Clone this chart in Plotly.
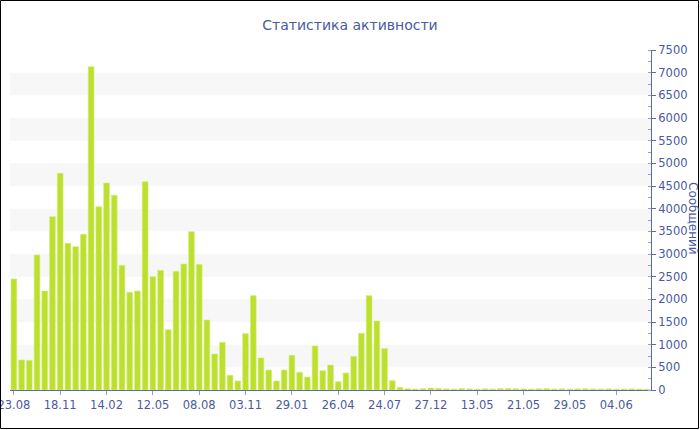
import plotly.graph_objects as go

# Data
values = [2450, 662, 654, 2978, 2184, 3824, 4779, 3235, 3162, 3434,
          7132, 4044, 4566, 4294, 2750, 2154, 2184, 4596, 2500, 2640,
          1331, 2618, 2779, 3493, 2772, 1544, 794, 1051, 324, 199,
          1243, 2081, 706, 441, 199, 441, 765, 390, 287, 971,
          426, 551, 184, 375, 743, 1250, 2081, 1522, 912, 206,
          59, 29, 22, 29, 44, 37, 25, 20, 30, 24,
          18, 26, 22, 30, 35, 28, 24, 20, 27, 31,
          22, 25, 19, 26, 28, 23, 20, 24, 18, 22,
          25, 20, 16]
positions = list(range(len(values)))
tick_positions = [0, 6, 12, 18, 24, 30, 36, 42, 48, 54, 60, 66, 72, 78]
tick_labels = ["23.08", "18.11", "14.02", "12.05", "08.08", "03.11", "29.01",
               "26.04", "24.07", "27.12", "13.05", "21.05", "29.05", "04.06"]
y_max = 7500
y_step = 500

TEXT = "#4a5a9f"
AXIS = "#5b6cae"
W, H = 700, 430
ML, MR, MT, MB = 10, 49, 50, 40
PW, PH = W - ML - MR, H - MT - MB

fig = go.Figure()
fig.add_trace(go.Bar(
    x=positions, y=values,
    marker=dict(color="#bde02e", line=dict(width=0.6, color="#d3ec76")),
    hoverinfo="y",
))

shapes = []
for lo in range(y_step, y_max, 2 * y_step):
    shapes.append(dict(type="rect", xref="paper", yref="y", x0=0, x1=1,
                       y0=lo, y1=lo + y_step, fillcolor="#f7f7f7",
                       line=dict(width=0), layer="below"))
# outer border
shapes.append(dict(type="rect", xref="paper", yref="paper",
                   x0=(0.5 - ML) / PW, x1=(W - 1.5 - ML) / PW,
                   y0=(PH + MT - (H - 1.5)) / PH, y1=(PH + MT - 0.5) / PH,
                   line=dict(color="black", width=1), fillcolor="rgba(0,0,0,0)"))

fig.update_layout(
    width=W, height=H,
    margin=dict(l=ML, r=MR, t=MT, b=MB, pad=0),
    paper_bgcolor="white", plot_bgcolor="white",
    bargap=0.26,
    showlegend=False,
    shapes=shapes,
    font=dict(family="DejaVu Sans", size=11.5, color=TEXT),
    title=dict(text="Статистика активности", x=0.5, xanchor="center",
               y=1 - 25 / H, yanchor="middle",
               font=dict(family="DejaVu Sans", size=14, color=TEXT)),
    xaxis=dict(range=[-0.5, len(values) - 0.5], tickmode="array",
               tickvals=tick_positions, ticktext=tick_labels,
               showgrid=False, zeroline=False, showline=True,
               linecolor=AXIS, linewidth=1, ticks="outside", ticklen=4,
               tickcolor="#9aa0b8", tickfont=dict(size=11.5, color=TEXT),
               ticklabeloverflow="allow", automargin=False),
    yaxis=dict(side="right", range=[0, y_max], dtick=y_step, tick0=0,
               showgrid=False, zeroline=False, showline=True,
               linecolor=AXIS, linewidth=1, ticks="outside", ticklen=4,
               tickcolor=AXIS, tickfont=dict(size=11.5, color=TEXT),
               minor=dict(dtick=y_step / 2, ticks="inside", ticklen=3,
                          tickcolor="#9aa0b8", showgrid=False),
               ticklabeloverflow="allow", automargin=False),
    annotations=[dict(text="Сообщений", textangle=90, xref="paper", yref="paper",
                      x=(693 - ML) / PW, y=(390 - 218) / PH,
                      xanchor="center", yanchor="middle", showarrow=False,
                      font=dict(family="DejaVu Sans", size=12, color=TEXT))],
)

fig.write_html("out.html", config={"displayModeBar": False},
               post_script="document.body.style.margin='0';document.body.style.overflow='hidden';")
